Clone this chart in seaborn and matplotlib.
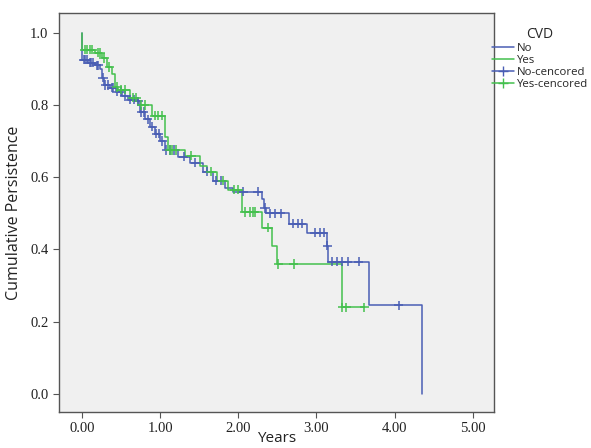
import matplotlib
matplotlib.use("Agg")
import matplotlib.pyplot as plt
from matplotlib.lines import Line2D
from matplotlib.ticker import FormatStrFormatter
import seaborn as sns
import pandas as pd
import numpy as np


# ============================================================
# DATA
# ============================================================
groups = ["No", "Yes"]

# step points: time of drop, survival after drop
no_t = [0.0, 0.0, 0.08, 0.17, 0.23, 0.26, 0.28, 0.36, 0.43, 0.51, 0.59, 0.68,
        0.74, 0.81, 0.87, 0.93, 1.00, 1.06, 1.23, 1.38, 1.55, 1.68, 1.83, 1.93,
        2.30, 2.33, 2.35, 2.65, 2.88, 3.13, 3.15, 3.67, 4.35]
no_s = [1.0, 0.925, 0.917, 0.91, 0.90, 0.875, 0.855, 0.848, 0.837, 0.825, 0.815, 0.81,
        0.78, 0.76, 0.74, 0.72, 0.70, 0.675, 0.657, 0.64, 0.615, 0.59, 0.57, 0.56,
        0.54, 0.515, 0.50, 0.471, 0.446, 0.41, 0.366, 0.245, 0.0]
no_cens = [0.02, 0.04, 0.06, 0.10, 0.12, 0.14, 0.19, 0.21, 0.27, 0.30, 0.33, 0.38,
           0.40, 0.45, 0.50, 0.55, 0.62, 0.66, 0.72, 0.76, 0.79, 0.84, 0.90, 0.95,
           0.98, 1.03, 1.08, 1.12, 1.18, 1.30, 1.45, 1.60, 1.72, 1.78, 2.06, 2.25,
           2.34, 2.40, 2.47, 2.54, 2.70, 2.76, 2.81, 2.98, 3.04, 3.09, 3.14, 3.20,
           3.26, 3.32, 3.40, 3.54, 4.05]

yes_t = [0.0, 0.0, 0.17, 0.26, 0.32, 0.38, 0.42, 0.46, 0.61, 0.72, 0.90, 1.06,
         1.10, 1.32, 1.51, 1.60, 1.73, 1.87, 2.05, 2.30, 2.43, 2.49, 3.32, 3.61]
yes_s = [1.0, 0.953, 0.945, 0.93, 0.905, 0.885, 0.85, 0.842, 0.82, 0.80, 0.77, 0.71,
         0.675, 0.66, 0.63, 0.615, 0.59, 0.565, 0.504, 0.46, 0.41, 0.36, 0.24, 0.24]
yes_cens = [0.04, 0.07, 0.10, 0.13, 0.20, 0.23, 0.28, 0.35, 0.45, 0.50, 0.55, 0.65,
            0.69, 0.76, 0.80, 0.93, 0.97, 1.02, 1.12, 1.15, 1.20, 1.40, 1.65, 1.80,
            1.95, 2.00, 2.08, 2.15, 2.19, 2.21, 2.38, 2.51, 2.71, 3.33, 3.38, 3.61]

x_ticks = [0, 1, 2, 3, 4, 5]
y_ticks = [0.0, 0.2, 0.4, 0.6, 0.8, 1.0]

colors = {"No": "#4A5EB4", "Yes": "#44C04E"}


def surv_at(t_list, s_list, t):
    # value of the step function just at time t
    idx = np.searchsorted(np.array(t_list), t, side="right") - 1
    return s_list[max(idx, 0)]


# build dataframes
curve_df = pd.concat([
    pd.DataFrame({"t": no_t, "s": no_s, "CVD": "No"}),
    pd.DataFrame({"t": yes_t, "s": yes_s, "CVD": "Yes"}),
], ignore_index=True)

cens_df = pd.concat([
    pd.DataFrame({"t": no_cens, "s": [surv_at(no_t, no_s, c) for c in no_cens], "CVD": "No"}),
    pd.DataFrame({"t": yes_cens, "s": [surv_at(yes_t, yes_s, c) for c in yes_cens], "CVD": "Yes"}),
], ignore_index=True)


# ============================================================
# PLOT
# ============================================================
sns.set_style("ticks")

fig = plt.figure(figsize=(5.91, 4.48), dpi=100)
ax = fig.add_axes([0.0998, 0.0804, 0.736, 0.891])
ax.set_facecolor("#F0F0F0")

for g in groups:
    sub = curve_df[curve_df["CVD"] == g]
    ax.step(sub["t"], sub["s"], where="post", color=colors[g], lw=1.1, zorder=3)

sns.scatterplot(data=cens_df, x="t", y="s", hue="CVD", palette=colors,
                marker="+", s=45, linewidth=1.1, legend=False, ax=ax, zorder=4)

ax.set_xlim(-0.294, 5.27)
ax.set_ylim(-0.05, 1.055)
ax.set_xticks(x_ticks)
ax.set_yticks(y_ticks)
ax.xaxis.set_major_formatter(FormatStrFormatter("%.2f"))
ax.yaxis.set_major_formatter(FormatStrFormatter("%.1f"))

for sp in ax.spines.values():
    sp.set_color("#555555")
    sp.set_linewidth(1.0)
    sp.set_visible(True)

ax.tick_params(axis="both", direction="out", length=4, width=0.8,
               color="#555555", labelsize=10.5, labelcolor="#222222")
for lab in ax.get_xticklabels() + ax.get_yticklabels():
    lab.set_family("Liberation Serif")

ax.set_xlabel("Years", fontsize=11, family="Open Sans", color="#222222", labelpad=-3)
ax.set_ylabel("Cumulative Persistence", fontsize=11.5, family="Open Sans",
              color="#222222", labelpad=6)

handles = [
    Line2D([], [], color=colors["No"], lw=1.1),
    Line2D([], [], color=colors["Yes"], lw=1.1),
    Line2D([], [], color=colors["No"], lw=1.1, marker="+", markersize=7),
    Line2D([], [], color=colors["Yes"], lw=1.1, marker="+", markersize=7),
]
leg = fig.legend(handles, ["No", "Yes", "No-cencored", "Yes-cencored"],
                 title="CVD", loc="upper left", bbox_to_anchor=(0.828, 0.945),
                 frameon=False, fontsize=8.2, title_fontsize=10,
                 handlelength=2.0, handletextpad=0.25, labelspacing=0.1,
                 borderpad=0.2, borderaxespad=0.0)
for t in leg.get_texts():
    t.set_family("Open Sans")
leg.get_title().set_family("Open Sans")

plt.savefig("out.png", dpi=100)
plt.close()
